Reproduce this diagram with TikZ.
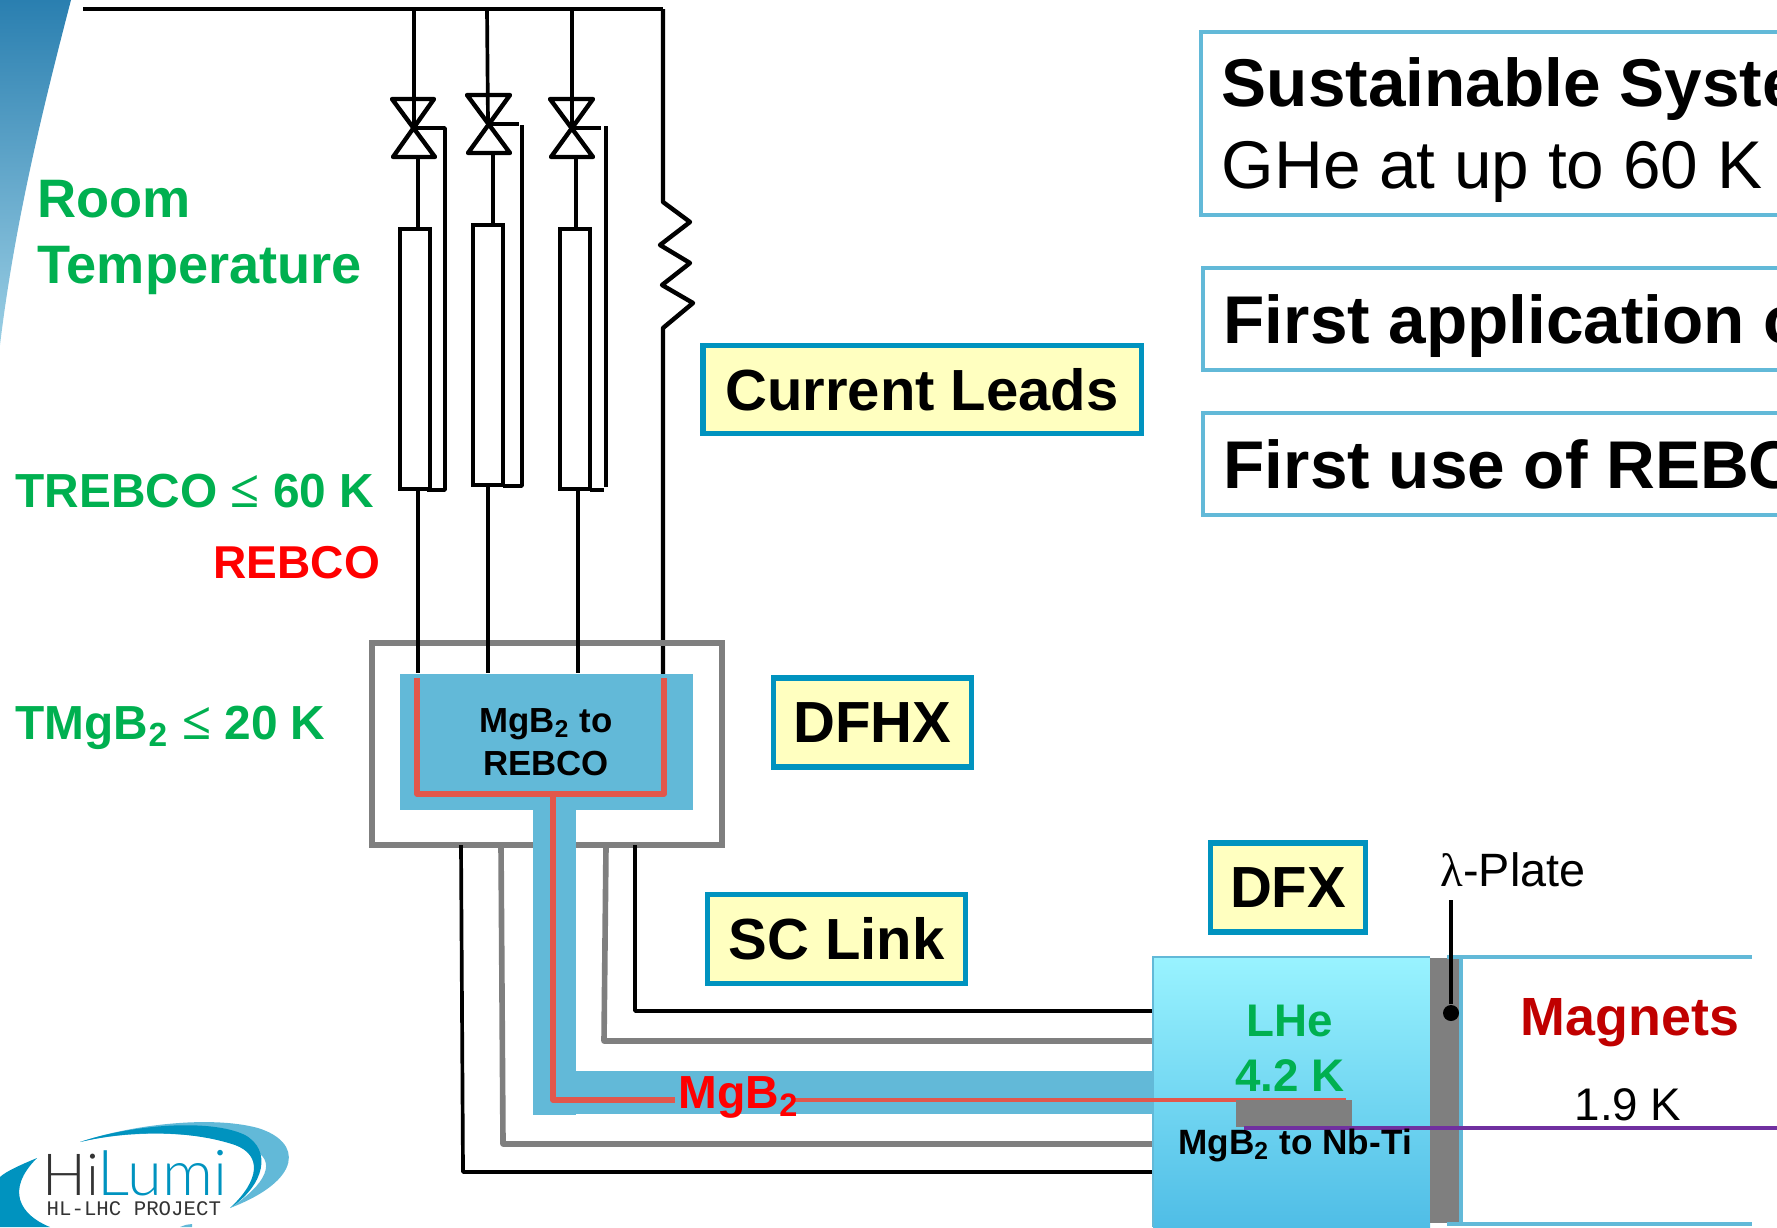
\documentclass[tikz,border=0pt]{standalone}
\usepackage{fontspec}
\setmainfont{Liberation Sans}
\newfontfamily\logofont{Lato Light}
\newfontfamily\logomono{Liberation Mono}
\newfontfamily\symbfont{Liberation Serif}
\definecolor{bannertop}{HTML}{2A7FB0}
\definecolor{bannerbot}{HTML}{70BAD9}
\definecolor{linkblue}{HTML}{62B9D8}
\definecolor{tagblue}{HTML}{0093BF}
\definecolor{tagfill}{HTML}{FFFFC0}
\definecolor{coldred}{HTML}{E2574C}
\definecolor{tempgreen}{HTML}{00B050}
\definecolor{magnetred}{HTML}{C00000}
\definecolor{plategray}{HTML}{7F7F7F}
\definecolor{busviolet}{HTML}{7030A0}
\definecolor{hetop}{HTML}{99F3FF}
\definecolor{hebot}{HTML}{4FBDE6}
\tikzset{
    wire/.style={draw=black,line width=1.05pt,line join=round},
    graywire/.style={draw=plategray,line width=1.6pt,line join=round},
    redwire/.style={draw=coldred,line width=1.6pt,line join=round},
    leadbox/.style={draw=black,line width=1.3pt,minimum width=0.3cm,inner sep=0pt},
    tagbox/.style={draw=tagblue,fill=tagfill,line width=1.5pt,inner sep=0pt,font=\bfseries\fontsize{16.5}{20}\selectfont},
    infobox/.style={draw=linkblue,line width=1pt,anchor=north west,minimum width=6.2cm,inner sep=0pt},
    infotext/.style={anchor=base west,inner sep=0pt,font=\fontsize{19.2}{23}\selectfont},
    templabel/.style={anchor=base west,inner sep=0pt,text=tempgreen,font=\bfseries\fontsize{13.6}{15}\selectfont},
    plain/.style={anchor=base,inner sep=0pt}
}
\begin{document}
\begin{tikzpicture}[x=0.01cm,y=-0.01cm]
    \useasboundingbox (0,0) rectangle (1777,1227);
    \clip (0,0) rectangle (1777,1227);
    \shade[top color=bannertop,bottom color=bannerbot!70!white] (0,0) -- (71,0) .. controls (45,100) and (15,220) .. (0,345) -- cycle;
    \coordinate (railstart) at (83,9);
    \coordinate (railend) at (663,9);
    \coordinate (valve1) at (414,128);
    \coordinate (valve2) at (488,124);
    \coordinate (valve3) at (572,128);
    \node[leadbox,minimum height=2.6cm] (lead1) at (415,359) {};
    \node[leadbox,minimum height=2.6cm] (lead2) at (488,355) {};
    \node[leadbox,minimum height=2.6cm] (lead3) at (575,359) {};
    \draw[wire,line width=1.3pt] (railstart) -- (railend);
    \draw[wire] (414,9) -- (valve1);
    \draw[wire] (487,9) -- (valve2);
    \draw[wire] (572,9) -- (valve3);
    \draw[wire,line width=1.25pt] (392,99) -- (434,99) -- (393,157) -- (435,157) -- cycle;
    \draw[wire,line width=1.25pt] (467,95) -- (510,95) -- (468,153) -- (510,153) -- cycle;
    \draw[wire,line width=1.25pt] (550,99) -- (593,99) -- (551,157) -- (593,157) -- cycle;
    \draw[wire] (418,157) -- (lead1.north -| 418,0);
    \draw[wire] (493,153) -- (lead2.north -| 493,0);
    \draw[wire] (576,157) -- (lead3.north -| 576,0);
    \draw[wire] (valve1) -- (445,128) -- (445,490) -- (427,490);
    \draw[wire] (valve2) -- (519,124);
    \draw[wire] (522,125) -- (522,486) -- (503,486);
    \draw[wire] (valve3) -- (601,128);
    \draw[wire] (606,126) -- (606,487);
    \draw[wire] (590,490) -- (604,490);
    \draw[wire,line width=1.25pt] (railend) -- (663,202) -- (690,222) -- (660,245) -- (690,263) -- (662,285) -- (693,303) -- (663,328) -- (663,674);
    \draw[draw=plategray,line width=1.7pt] (372,643) rectangle (722,845);
    \node[fill=linkblue,minimum width=2.92cm,minimum height=1.36cm,inner sep=0pt] (dfhxcore) at (546.5,742) {};
    \draw[wire] (lead1.south -| 418,0) -- (dfhxcore.north -| 418,0);
    \draw[wire] (lead2.south -| 488,0) -- (dfhxcore.north -| 488,0);
    \draw[wire] (lead3.south -| 578,0) -- (dfhxcore.north -| 578,0);
    \draw[wire] (461,845) -- (463,1172) -- (1153,1172);
    \draw[graywire] (501,845) -- (503,1144) -- (1153,1144);
    \draw[graywire] (606,845) -- (604,1041) -- (1153,1041);
    \draw[wire] (635,845) -- (635,1011) -- (1153,1011);
    \fill[linkblue] (533,810) rectangle (576,1115);
    \fill[linkblue] (576,1071) rectangle (1154,1114);
    \draw[redwire] (417,678) -- (417,794) -- (664,794) -- (664,678);
    \draw[redwire] (553,794) -- (553,1100) -- (675,1100);
    \shade[top color=hetop,bottom color=hebot] (1153,957) rectangle (1430,1227);
    \draw[draw=linkblue,line width=0.7pt] (1153,1227) -- (1153,957) -- (1430,957);
    \draw[redwire,line width=1.4pt] (793,1100) -- (1346,1100);
    \fill[plategray] (1236,1100) rectangle (1352,1127);
    \fill[plategray] (1430,958) rectangle (1460,1223);
    \draw[draw=linkblue,line width=1pt] (1447,957) -- (1752,957);
    \draw[draw=linkblue,line width=1pt] (1447,1224) -- (1752,1224);
    \draw[draw=linkblue,line width=1pt] (1461,958) -- (1461,1224);
    \draw[draw=busviolet,line width=1.3pt] (1244,1128) -- (1777,1128);
    \node[circle,fill=black,minimum size=0.16cm,inner sep=0pt] (platedot) at (1451,1013) {};
    \coordinate (platetop) at (1451,900);
    \draw[wire,line width=1.2pt] (platetop) -- (platedot);
    \node[tagbox,minimum width=4.38cm,minimum height=0.88cm] (leads) at (922,389.5) {Current Leads};
    \node[tagbox,minimum width=1.98cm,minimum height=0.89cm] (dfhx) at (872.5,722.5) {DFHX};
    \node[tagbox,minimum width=2.58cm,minimum height=0.89cm] (sclink) at (836.5,939) {SC Link};
    \node[tagbox,minimum width=1.55cm,minimum height=0.89cm] (dfx) at (1288,887.5) {DFX};
    \node[infobox,minimum height=1.83cm] (sustain) at (1199,30) {};
    \node[infobox,minimum height=1.02cm] (firstapp) at (1201,266) {};
    \node[infobox,minimum height=1.02cm] (firstuse) at (1201,411) {};
    \node[infotext] (sustaintext) at (1221,106) {\bfseries Sustainable Syste};
    \node[infotext] (ghetext) at (1221,188) {GHe at up to 60 K};
    \node[infotext] (firstapptext) at (1223,343) {\bfseries First application o};
    \node[infotext] (firstusetext) at (1223,488) {\bfseries First use of REBC};
    \node[templabel,font=\bfseries\fontsize{15.4}{18}\selectfont] (room) at (37,217) {Room};
    \node[templabel,font=\bfseries\fontsize{15.4}{18}\selectfont] (temperature) at (37,283) {Temperature};
    \node[templabel] (trebco) at (15,507) {TREBCO {\symbfont\fontsize{15}{14}\selectfont≤} 60 K};
    \node[templabel,text=red,font=\bfseries\fontsize{13.1}{15}\selectfont] (rebco) at (213,578) {REBCO};
    \node[templabel] (tmgb) at (15,739) {TMgB\textsubscript{2} {\symbfont\fontsize{15}{14}\selectfont≤} 20 K};
    \node[templabel,text=red,font=\bfseries\fontsize{13.2}{16}\selectfont] (mgblabel) at (678,1108) {MgB\textsubscript{2}};
    \node[plain,font=\bfseries\fontsize{9.9}{12}\selectfont] (coretop) at (546,732) {MgB\textsubscript{2} to};
    \node[plain,font=\bfseries\fontsize{9.9}{12}\selectfont] (corebot) at (546,775) {REBCO};
    \node[plain,text=tempgreen,font=\bfseries\fontsize{13}{15}\selectfont] (lhe) at (1290,1036) {LHe};
    \node[plain,text=tempgreen,font=\bfseries\fontsize{13}{15}\selectfont] (lhetemp) at (1290,1091) {4.2 K};
    \node[plain,font=\bfseries\fontsize{10}{12}\selectfont] (joint) at (1295,1154) {MgB\textsubscript{2} to Nb-Ti};
    \node[plain,text=magnetred,font=\bfseries\fontsize{15.3}{18}\selectfont] (magnets) at (1630,1035) {Magnets};
    \node[plain,font=\fontsize{13}{16}\selectfont] (magtemp) at (1628,1120) {1.9 K};
    \node[anchor=base west,inner sep=0pt,font=\fontsize{13.3}{16}\selectfont] (plate) at (1440,886) {{\symbfont λ}-Plate};
    \fill[linkblue] (80,1142) .. controls (130,1125) and (210,1115) .. (258,1128) .. controls (303,1142) and (303,1180) .. (230,1208) .. controls (265,1185) and (280,1160) .. (250,1148) .. controls (200,1130) and (130,1130) .. (80,1142) -- cycle;
    \fill[tagblue] (80,1142) .. controls (130,1125) and (210,1118) .. (245,1135) .. controls (272,1150) and (265,1185) .. (230,1208) .. controls (260,1180) and (262,1155) .. (235,1145) .. controls (190,1130) and (130,1130) .. (80,1142) -- cycle;
    \fill[tagblue] (37,1158) .. controls (20,1165) and (5,1172) .. (0,1177) -- (0,1227) -- (50,1227) .. controls (20,1215) and (5,1190) .. (37,1158) -- cycle;
    \fill[linkblue] (180,1227) .. controls (185,1225) and (188,1224) .. (192,1224) -- (192,1227) -- cycle;
    \node[anchor=base west,inner sep=0pt,text=black!80,font=\logofont\fontsize{16.5}{18}\selectfont] (logohi) at (42,1195) {Hi};
    \node[anchor=base west,inner sep=0pt,text=tagblue,font=\logofont\fontsize{18}{18}\selectfont] (logolumi) at (97,1195) {Lumi};
    \node[anchor=base west,inner sep=0pt,text=black!80,font=\logomono\fontsize{5.9}{7}\selectfont] (logoproject) at (46,1215) {HL-LHC  PROJECT};
\end{tikzpicture}
\end{document}
